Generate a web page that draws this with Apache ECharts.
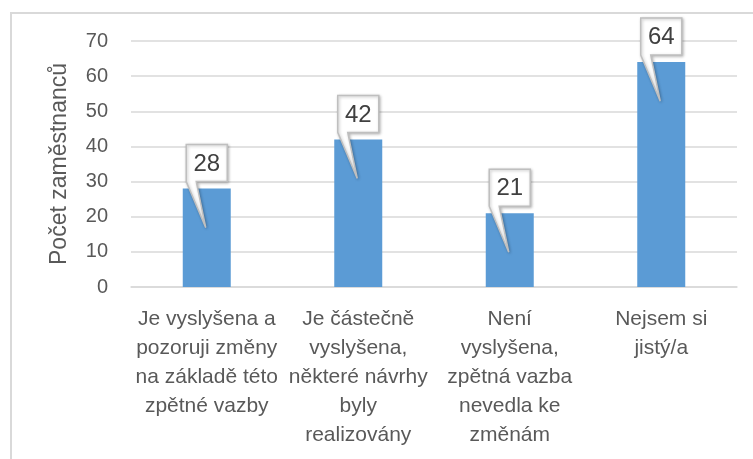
<!DOCTYPE html>
<html>
<head>
<meta charset="utf-8">
<script src="https://cdn.jsdelivr.net/npm/echarts@6/dist/echarts.min.js"></script>
<style>html,body{margin:0;padding:0;background:#fff}#c{width:753px;height:459px}</style>
</head>
<body>
<div id="c"></div>
<script>
const categories = [
  "Je vyslyšena a\npozoruji změny\nna základě této\nzpětné vazby",
  "Je částečně\nvyslyšena,\nněkteré návrhy\nbyly\nrealizovány",
  "Není\nvyslyšena,\nzpětná vazba\nnevedla ke\nzměnám",
  "Nejsem si\njistý/a"
];
const values = [28, 42, 21, 64];
const yTicks = { min: 0, max: 70, interval: 10 };
const yTitle = "Počet zaměstnanců";

const FONT = "'Liberation Sans Narrow', 'Liberation Sans', sans-serif";
const chart = echarts.init(document.getElementById('c'), null, { renderer: 'canvas' });

function callout(params, api) {
  const idx = api.value(0);
  const v = api.value(1);
  const p = api.coord([idx, v]);
  const cx = p[0], top = p[1];
  const w = 41, h = 37;
  const L = cx - w / 2, R = cx + w / 2;
  const B = top - 7, T = B - h;
  const tipX = cx - 1, tipY = top + 39;
  const wR = L + 10;
  return {
    type: 'group',
    children: [
      {
        type: 'polygon',
        shape: { points: [[L, T], [R, T], [R, B], [wR, B], [tipX, tipY], [L, B]] },
        style: {
          fill: '#ffffff', stroke: '#bfbfbf', lineWidth: 1.5,
          shadowBlur: 3, shadowColor: 'rgba(0,0,0,0.25)', shadowOffsetX: 1, shadowOffsetY: 1
        }
      },
      {
        type: 'text',
        style: {
          text: String(v), x: cx, y: (T + B) / 2 + 1,
          align: 'center', verticalAlign: 'middle',
          font: '24px ' + FONT, fill: '#404040'
        }
      }
    ]
  };
}

chart.setOption({
  animation: false,
  backgroundColor: '#ffffff',
  graphic: [{
    type: 'rect', left: 10, top: 12, z: -10,
    shape: { width: 800, height: 500 },
    style: { fill: 'transparent', stroke: '#d9d9d9', lineWidth: 2 }
  }],
  grid: { left: 131, right: 16, top: 41, bottom: 172, containLabel: false },
  xAxis: {
    type: 'category',
    data: categories,
    axisLine: { show: true, lineStyle: { color: '#d9d9d9', width: 1.5 } },
    axisTick: { show: false },
    axisLabel: {
      interval: 0, color: '#595959', fontFamily: FONT, fontSize: 21,
      lineHeight: 29, margin: 18, align: 'center'
    }
  },
  yAxis: {
    type: 'value',
    min: yTicks.min, max: yTicks.max, interval: yTicks.interval,
    name: yTitle,
    nameLocation: 'middle',
    nameGap: 60,
    nameTextStyle: { color: '#595959', fontFamily: FONT, fontSize: 23 },
    axisLine: { show: false },
    axisTick: { show: false },
    axisLabel: { color: '#595959', fontFamily: FONT, fontSize: 20, margin: 23 },
    splitLine: { lineStyle: { color: '#d9d9d9', width: 1.5 } }
  },
  series: [
    {
      type: 'bar',
      data: values,
      barWidth: 48,
      itemStyle: { color: '#5b9bd5' },
      z: 2
    },
    {
      type: 'custom',
      data: values.map((v, i) => [i, v]),
      renderItem: callout,
      clip: false,
      z: 5
    }
  ]
});
</script>
</body>
</html>
